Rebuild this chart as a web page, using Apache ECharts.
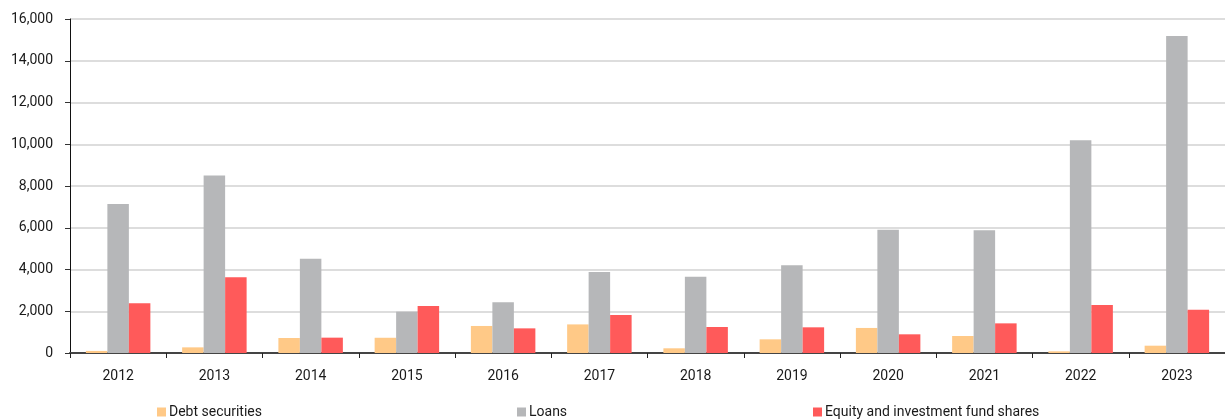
<!DOCTYPE html>
<html>
<head>
<meta charset="utf-8">
<script src="https://cdn.jsdelivr.net/npm/echarts@6/dist/echarts.min.js"></script>
<style>
  html, body { margin: 0; padding: 0; background: #fff; }
  #chart { width: 1225px; height: 419px; }
</style>
</head>
<body>
<div id="chart"></div>
<script>
// years along the x axis
const years = ['2012', '2013', '2014', '2015', '2016', '2017', '2018', '2019', '2020', '2021', '2022', '2023']

// values
const debtSecurities = [100, 270, 720, 730, 1295, 1370, 225, 655, 1200, 815, 80, 350]
const loans = [7140, 8500, 4520, 1980, 2430, 3880, 3655, 4200, 5905, 5875, 10190, 15185]
const equityShares = [2380, 3625, 735, 2250, 1180, 1820, 1245, 1230, 895, 1420, 2300, 2075]

const FONT = 'Roboto, "Noto Sans", sans-serif'
const chart = echarts.init(document.getElementById('chart'))

const legendBase = {
  top: 400,
  itemWidth: 9,
  itemHeight: 9,
  itemGap: 4,
  icon: 'rect',
  textStyle: { color: '#1a1a1a', fontSize: 14, fontFamily: FONT, padding: [0, 0, 0, -2] }
}

chart.setOption({
  backgroundColor: '#fff',
  animation: false,
  grid: { left: 70, right: 0, top: 19, bottom: 66, containLabel: false },
  legend: [
    { ...legendBase, left: 152, data: ['Debt securities'] },
    { ...legendBase, left: 512, data: ['Loans'] },
    { ...legendBase, left: 808, data: ['Equity and investment fund shares'] }
  ],
  xAxis: {
    type: 'category',
    data: years,
    axisLine: { lineStyle: { color: '#444', width: 2 } },
    axisTick: { show: true, alignWithLabel: false, length: 5, lineStyle: { color: '#222', width: 1 } },
    axisLabel: { color: '#1a1a1a', fontSize: 14, fontFamily: FONT, margin: 16 },
    splitLine: { show: false }
  },
  yAxis: {
    type: 'value',
    min: 0,
    max: 16000,
    interval: 2000,
    axisLine: { show: true, lineStyle: { color: '#111', width: 1 } },
    axisTick: { show: true, length: 5, lineStyle: { color: '#333' } },
    axisLabel: {
      color: '#1a1a1a',
      fontSize: 14,
      fontFamily: FONT,
      margin: 17,
      formatter: v => v.toLocaleString('en-US')
    },
    splitLine: { lineStyle: { color: '#d2d2d2', width: 1.5 } }
  },
  series: [
    {
      name: 'Debt securities',
      type: 'bar',
      data: debtSecurities,
      barGap: '0%',
      barCategoryGap: '33%',
      itemStyle: { color: '#FFC987' }
    },
    {
      name: 'Loans',
      type: 'bar',
      data: loans,
      barGap: '0%',
      barCategoryGap: '33%',
      itemStyle: { color: '#B6B7B9' }
    },
    {
      name: 'Equity and investment fund shares',
      type: 'bar',
      data: equityShares,
      barGap: '0%',
      barCategoryGap: '33%',
      itemStyle: { color: '#FF5A5A' }
    }
  ]
})
</script>
</body>
</html>
